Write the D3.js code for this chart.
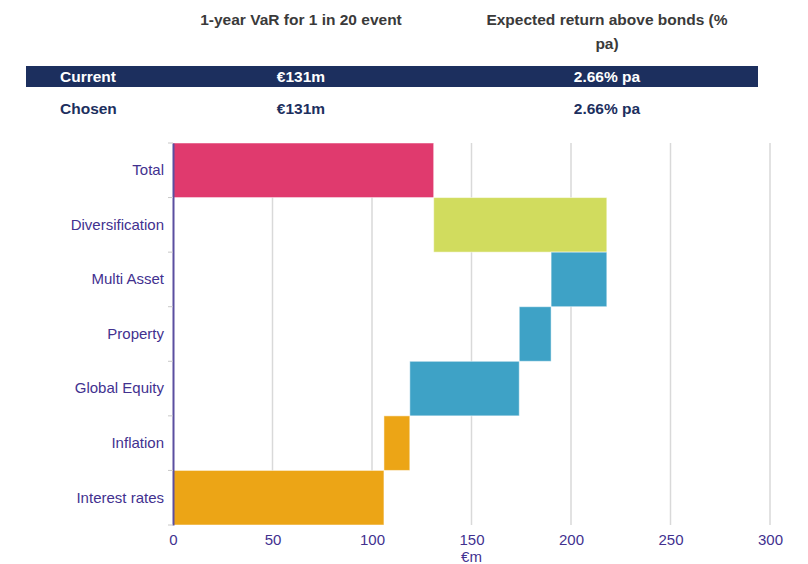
<!DOCTYPE html>
<html>
<head>
<meta charset="utf-8">
<script src="https://cdn.jsdelivr.net/npm/d3@7"></script>
<style>
body{margin:0;background:#fff;font-family:"Liberation Sans",Arial,sans-serif;}
</style>
</head>
<body>
<svg id="chart" width="808" height="564"></svg>
<script>
// waterfall data
let categories=["Total","Diversification","Multi Asset","Property","Global Equity","Inflation","Interest rates"];
let starts=[0,218,190,174,119,106,0];
let ends=[131,131,218,190,174,119,106];
let colors=["#e03a6e","#d1dc5e","#3ea2c6","#3ea2c6","#3ea2c6","#eca516","#eca516"];
let xTicks=[0,50,100,150,200,250,300];

// table
let headers=["","1-year VaR for 1 in 20 event","Expected return above bonds (%|pa)"];
let rowNames=["Current","Chosen"];
let varValues=["€131m","€131m"];
let retValues=["2.66% pa","2.66% pa"];

let svg=d3.select("#chart");
let plotLeft=173, plotRight=770, plotTop=143, plotBottom=525;
let textCol="#42318f";

let x=d3.scaleLinear().domain([0,300]).range([plotLeft,plotRight]);
let y=d3.scaleBand().domain(categories).range([plotTop,plotBottom]).padding(0);

// table
let colX=[60,301,607];
let hdr=svg.append("g").attr("font-size",15.5).attr("font-weight","bold").attr("fill","#3a3a3a");
headers.forEach(function(h,i){
    if(!h) return;
    h.split("|").forEach(function(line,j){
        hdr.append("text").attr("x",colX[i]).attr("y",25+j*24)
        .attr("text-anchor","middle").text(line);
    });
});
svg.append("rect").attr("x",26).attr("y",66).attr("width",732).attr("height",21).attr("fill","#1c2f5e");
rowNames.forEach(function(r,i){
    let yy=82+i*32;
    let fill= i==0 ? "#fff" : "#1c2f5e";
    let g=svg.append("g").attr("font-size",15.5).attr("font-weight","bold").attr("fill",fill);
    g.append("text").attr("x",colX[0]).attr("y",yy).text(r);
    g.append("text").attr("x",colX[1]).attr("y",yy).attr("text-anchor","middle").text(varValues[i]);
    g.append("text").attr("x",colX[2]).attr("y",yy).attr("text-anchor","middle").text(retValues[i]);
});

// grid
svg.append("g").selectAll("line").data(xTicks.slice(1)).enter().append("line")
.attr("x1",function(d){return x(d);}).attr("x2",function(d){return x(d);})
.attr("y1",plotTop).attr("y2",plotBottom)
.attr("stroke","#d9d9d9").attr("stroke-width",1.5);

// bars
svg.append("g").selectAll("rect").data(categories).enter().append("rect")
.attr("x",function(d,i){return x(Math.min(starts[i],ends[i]));})
.attr("width",function(d,i){return Math.abs(x(ends[i])-x(starts[i]));})
.attr("y",function(d){return y(d);})
.attr("height",y.bandwidth())
.attr("fill",function(d,i){return colors[i];})
.attr("stroke","#fff").attr("stroke-opacity",0.5).attr("stroke-width",1);

// y axis
let yAxis=svg.append("g").attr("transform","translate("+plotLeft+",0)")
.call(d3.axisLeft(y).tickSize(0).tickPadding(9));
yAxis.select(".domain").attr("stroke","#5b4fa0").attr("stroke-width",2);
yAxis.selectAll("text").attr("fill",textCol).attr("font-size",15).attr("font-family","Liberation Sans, Arial, sans-serif");
// band boundary ticks
svg.append("g").selectAll("line").data(d3.range(categories.length+1)).enter().append("line")
.attr("x1",plotLeft-5).attr("x2",plotLeft)
.attr("y1",function(d){return plotTop+d*y.step();}).attr("y2",function(d){return plotTop+d*y.step();})
.attr("stroke","#c8c8c8").attr("stroke-width",1);

// x axis
let xAxis=svg.append("g").attr("transform","translate(0,"+plotBottom+")")
.call(d3.axisBottom(x).tickValues(xTicks).tickSize(0).tickPadding(9));
xAxis.select(".domain").remove();
xAxis.selectAll("text").attr("fill",textCol).attr("font-size",15).attr("font-family","Liberation Sans, Arial, sans-serif");

svg.append("text").attr("x",x(150)).attr("y",562).attr("text-anchor","middle")
.attr("fill",textCol).attr("font-size",15).text("€m");
</script>
</body>
</html>
